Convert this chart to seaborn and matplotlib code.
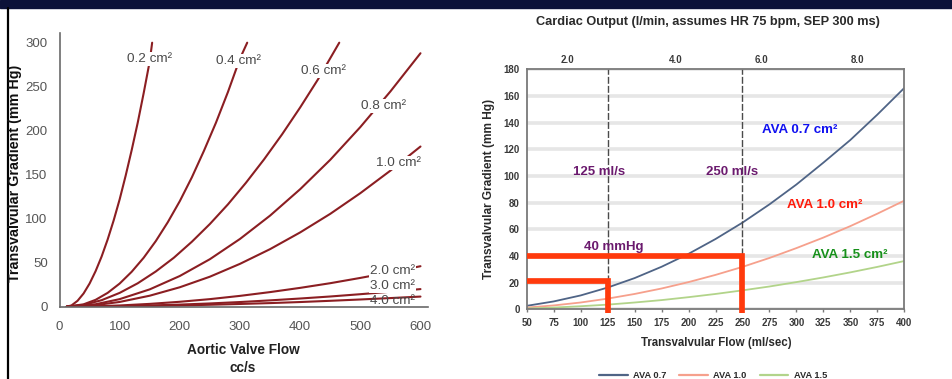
import numpy as np
import pandas as pd
import matplotlib
matplotlib.use("Agg")
import matplotlib.pyplot as plt
import seaborn as sns
from matplotlib.patches import Rectangle
from matplotlib.lines import Line2D

# ---------------- Left panel data: aortic valve flow (cc/s) vs gradient (mm Hg)
area_labels = ["0.2 cm²", "0.4 cm²", "0.6 cm²", "0.8 cm²", "1.0 cm²",
               "2.0 cm²", "3.0 cm²", "4.0 cm²"]
flow_02 = [12, 20, 30, 40, 50, 60, 70, 80, 90, 100, 110, 120, 130, 140, 150, 154]
grad_02 = [0, 1.5, 6.7, 15, 26.3, 40.4, 57, 76.3, 98, 122, 149, 178, 209, 243, 279, 300]
flow_04 = [12, 40, 60, 80, 100, 120, 140, 160, 180, 200, 220, 240, 260, 280, 300, 312]
grad_04 = [0, 2.7, 7.8, 15.7, 26.3, 39.7, 55.7, 74.5, 96, 120, 147, 177, 209, 244, 282, 300]
flow_06 = [12, 40, 70, 100, 130, 160, 190, 220, 250, 280, 310, 340, 370, 400, 430, 465]
grad_06 = [0, 2.0, 7.4, 15.7, 26.6, 40.0, 55.6, 73.8, 94.0, 116.3, 140.9, 167.4, 195.9, 226.4, 258.7, 300]
flow_08 = [12, 60, 100, 150, 200, 250, 300, 350, 400, 450, 500, 550, 600]
grad_08 = [0, 2.8, 8.6, 19.7, 34.9, 54.0, 77.0, 103.5, 133.5, 166.9, 204.1, 244.6, 288]
flow_10 = [12, 60, 100, 150, 200, 250, 300, 350, 400, 450, 500, 550, 600]
grad_10 = [0, 1.8, 5.4, 12.5, 22.1, 34.1, 48.7, 65.4, 84.4, 105.5, 129, 154.6, 182]
flow_20 = [12, 60, 100, 150, 200, 250, 300, 350, 400, 450, 500, 550, 600]
grad_20 = [0, 0.45, 1.4, 3.2, 5.6, 8.6, 12.3, 16.6, 21.4, 26.7, 32.7, 39.1, 46]
flow_30 = [12, 60, 100, 150, 200, 250, 300, 350, 400, 450, 500, 550, 600]
grad_30 = [0, 0.2, 0.6, 1.4, 2.4, 3.7, 5.3, 7.2, 9.3, 11.6, 14.2, 17, 20]
flow_40 = [12, 60, 100, 150, 200, 250, 300, 350, 400, 450, 500, 550, 600]
grad_40 = [0, 0.1, 0.3, 0.8, 1.4, 2.2, 3.1, 4.1, 5.3, 6.7, 8.2, 9.8, 11.5]
left_flows = [flow_02, flow_04, flow_06, flow_08, flow_10, flow_20, flow_30, flow_40]
left_grads = [grad_02, grad_04, grad_06, grad_08, grad_10, grad_20, grad_30, grad_40]
left_xticks = [0, 100, 200, 300, 400, 500, 600]
left_yticks = [0, 50, 100, 150, 200, 250, 300]

# ---------------- Right panel data: transvalvular flow (ml/s) vs gradient
flow_r = [50, 75, 100, 125, 150, 175, 200, 225, 250, 275, 300, 325, 350, 375, 400]
grad_ava07 = [2.6, 5.9, 10.4, 16.3, 23.4, 31.9, 41.6, 52.7, 65.0, 78.7, 93.6, 110, 127, 146, 166]
grad_ava10 = [1.3, 2.9, 5.1, 8.0, 11.5, 15.6, 20.4, 25.8, 31.8, 38.5, 45.9, 53.8, 62.4, 71.7, 81.5]
grad_ava15 = [0.6, 1.3, 2.3, 3.5, 5.1, 6.9, 9.1, 11.5, 14.2, 17.1, 20.4, 23.9, 27.7, 31.8, 36.2]
ava_names = ["AVA 0.7", "AVA 1.0", "AVA 1.5"]
right_xticks = list(range(50, 401, 25))
right_yticks = list(range(0, 181, 20))
co_labels = ["2.0", "4.0", "6.0", "8.0"]
co_flow_pos = [88, 188, 268, 357]
ref_flows = [125, 250]          # dashed reference flows
thresh_flow = [125, 250]        # red threshold boxes
thresh_grad = [21.4, 40]

# ---------------- styling
sns.set_style("white")
plt.rcParams['font.family'] = ['Liberation Sans', 'DejaVu Sans']

W, H = 952, 379
fig = plt.figure(figsize=(W / 100, H / 100), dpi=100)
fig.patch.set_facecolor("white")

def fx(px):
    return px / W

def fy(py):
    return 1 - py / H

# top navy band and left black line
fig.patches.append(Rectangle((0, fy(8.3)), 1, 8.3 / H, transform=fig.transFigure,
                             color="#0c1238", zorder=0))
fig.add_artist(Line2D([fx(8.3), fx(8.3)], [0, fy(8.3)], transform=fig.transFigure,
                      color="black", lw=1.6))

# ================= LEFT PANEL =================
axL = fig.add_axes([fx(59.5), fy(306.7), fx(427.7 - 59.5), (306.7 - 33) / H])
rows = []
for lab, fl, gr in zip(area_labels, left_flows, left_grads):
    for f, g in zip(fl, gr):
        rows.append({"flow": f, "grad": g, "area": lab})
dfL = pd.DataFrame(rows)
sns.lineplot(data=dfL, x="flow", y="grad", hue="area", units="area", estimator=None,
             palette=["#8b1e22"] * len(area_labels), lw=1.5, legend=False, ax=axL,
             sort=True)
axL.set_xlim(0, 612)
axL.set_ylim(0, 311)
axL.set_xticks(left_xticks)
axL.set_yticks(left_yticks)
for s in ["top", "right"]:
    axL.spines[s].set_visible(False)
for s in ["left", "bottom"]:
    axL.spines[s].set_color("#6a6a6a")
    axL.spines[s].set_linewidth(1.2)
axL.tick_params(axis="y", direction="out", length=4.5, width=1.2, color="#6a6a6a",
                labelsize=9.5, labelcolor="#555555", pad=4)
axL.tick_params(axis="x", direction="out", length=7, width=1.2, color="#6a6a6a",
                labelsize=9.5, labelcolor="#555555", pad=3.5)
axL.set_xlabel("")
axL.set_ylabel("")

label_pos = [(150, 281), (298, 279), (438, 268), (538, 228), (563, 163),
             (553, 41), (553, 23.6), (553, 6.5)]
for i, (lab, (x, y)) in enumerate(zip(area_labels, label_pos)):
    kw = dict(ha="center", va="center", fontsize=9.7, color="#4a4a4a", zorder=5)
    if i < 7:
        kw["bbox"] = dict(boxstyle="square,pad=0.08", fc="white", ec="none")
    axL.text(x, y, lab, **kw)

fig.text(fx(15), fy(173), "Transvalvular Gradient (mm Hg)", rotation=90,
         ha="center", va="center", fontsize=10.3, fontweight="bold", color="#111111")
fig.text(fx(243), fy(350), "Aortic Valve Flow", ha="center", va="center",
         fontsize=9.8, fontweight="bold", color="#222222")
fig.text(fx(243), fy(368), "cc/s", ha="center", va="center",
         fontsize=9.8, fontweight="bold", color="#222222")

# ================= RIGHT PANEL =================
axR = fig.add_axes([fx(526.7), fy(309.3), fx(904.3 - 526.7), (309.3 - 69.3) / H])
dfR = pd.DataFrame({
    "flow": flow_r * 3,
    "grad": grad_ava07 + grad_ava10 + grad_ava15,
    "ava": [ava_names[0]] * len(flow_r) + [ava_names[1]] * len(flow_r) + [ava_names[2]] * len(flow_r),
})
axR.set_axisbelow(True)
axR.yaxis.grid(True, color="#e6e6e6", lw=2.6)
sns.lineplot(data=dfR, x="flow", y="grad", hue="ava",
             palette=["#4f6486", "#f6a08c", "#b2d48a"], lw=1.3, ax=axR)
axR.set_xlim(50, 400)
axR.set_ylim(0, 180)
axR.set_xticks(right_xticks)
axR.set_yticks(right_yticks)
for s in axR.spines.values():
    s.set_color("#7a7a7a")
    s.set_linewidth(1.3)
axR.tick_params(axis="y", direction="out", length=3, width=1, color="#7a7a7a",
                labelsize=7, labelcolor="#3a3a3a", pad=2)
axR.tick_params(axis="x", direction="out", length=2, width=1, color="#7a7a7a",
                labelsize=7, labelcolor="#3a3a3a", pad=4)
for t in axR.get_xticklabels() + axR.get_yticklabels():
    t.set_fontweight("bold")
axR.set_xlabel("")
axR.set_ylabel("")

for f in ref_flows:
    axR.axvline(f, color="#4a4a4a", lw=1.0, ls=(0, (5, 1.5)), zorder=2)

for f, g in zip(thresh_flow, thresh_grad):
    axR.plot([50, f, f], [g, g, -2.8], color="#ff3a0c", lw=4.1,
             solid_capstyle="butt", solid_joinstyle="miter", clip_on=False, zorder=4)

# top axis (cardiac output)
axT = axR.twiny()
axT.set_xlim(axR.get_xlim())
axT.set_xticks(co_flow_pos)
axT.set_xticklabels(co_labels)
axT.tick_params(axis="x", length=0, labelsize=7, labelcolor="#3a3a3a", pad=3)
for t in axT.get_xticklabels():
    t.set_fontweight("bold")
for s in axT.spines.values():
    s.set_visible(False)

# text annotations
axR.text(302.7, 134.5, "AVA 0.7 cm²", color="#1010f0", fontsize=9.6,
         fontweight="bold", ha="center", va="center")
axR.text(326.5, 78.2, "AVA 1.0 cm²", color="#ff1a0a", fontsize=9.6,
         fontweight="bold", ha="center", va="center")
axR.text(349, 40.7, "AVA 1.5 cm²", color="#16901a", fontsize=9.6,
         fontweight="bold", ha="center", va="center")
axR.text(116.7, 102.7, "125 ml/s", color="#6b1a6e", fontsize=9.5,
         fontweight="bold", ha="center", va="center")
axR.text(240.3, 102.7, "250 ml/s", color="#6b1a6e", fontsize=9.5,
         fontweight="bold", ha="center", va="center")
axR.text(131, 47, "40 mmHg", color="#6b1a6e", fontsize=9.5,
         fontweight="bold", ha="center", va="center")

fig.text(fx(708.3), fy(21.7), "Cardiac Output (l/min, assumes HR 75 bpm, SEP 300 ms)",
         ha="center", va="center", fontsize=9.2, fontweight="bold", color="#2a2a2a")
fig.text(fx(489.3), fy(189), "Transvalvular Gradient (mm Hg)", rotation=90,
         ha="center", va="center", fontsize=8.6, fontweight="bold", color="#2a2a2a")
fig.text(fx(716), fy(343.3), "Transvalvular Flow (ml/sec)", ha="center", va="center",
         fontsize=8.3, fontweight="bold", color="#2a2a2a")

sns.move_legend(axR, "center", bbox_to_anchor=(0.493, (309.3 - 375.5) / 240),
                ncol=3, frameon=False, title=None, fontsize=6.7,
                handlelength=3.1, handletextpad=0.55, columnspacing=1.4)
leg = axR.get_legend()
for t in leg.get_texts():
    t.set_fontweight("bold")
    t.set_color("#2a2a2a")
for h in leg.get_lines():
    h.set_linewidth(1.6)

fig.savefig("out.png", dpi=100)
